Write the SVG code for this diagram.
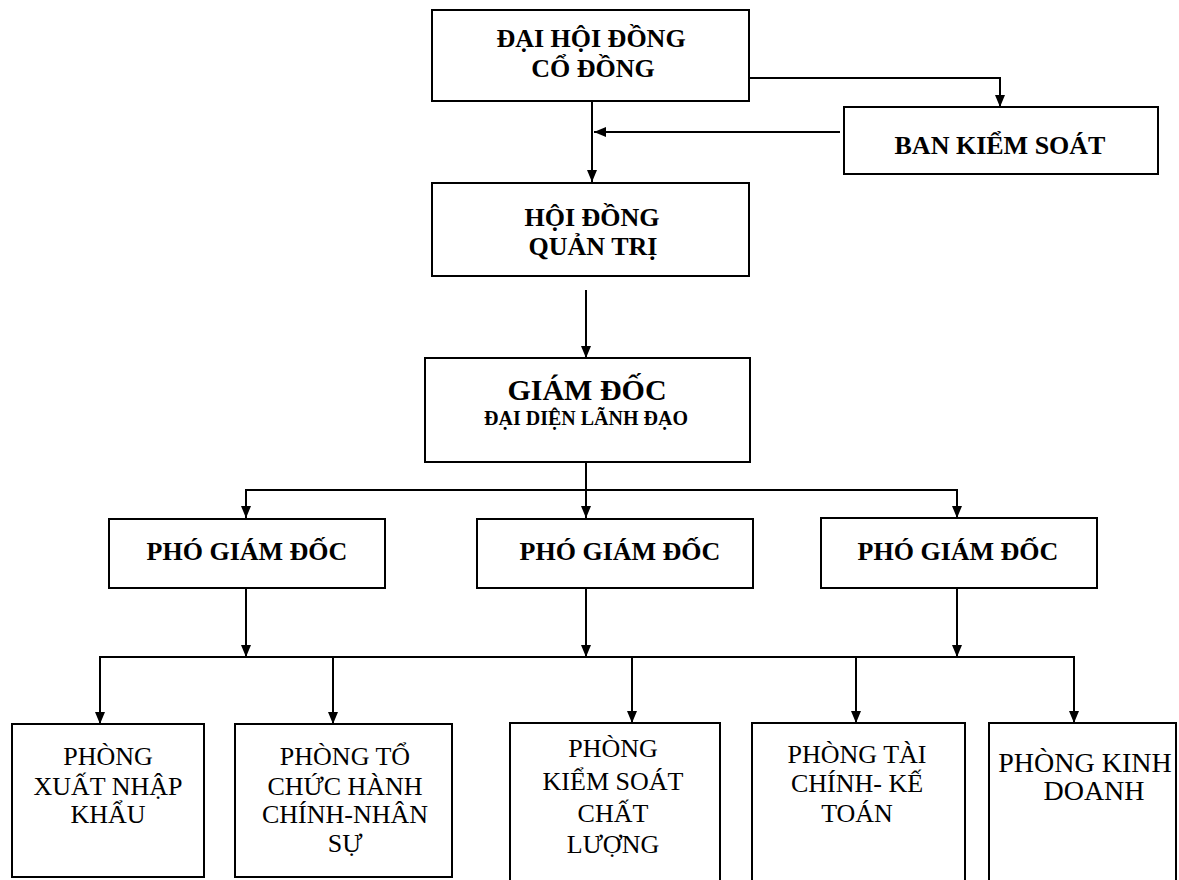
<svg xmlns="http://www.w3.org/2000/svg" width="1179" height="880" viewBox="0 0 1179 880">
<style>
.box{fill:#fff;stroke:#000;stroke-width:2}
.b{font-family:"Liberation Serif","Times New Roman",serif;font-weight:bold;font-size:26px;text-anchor:middle;fill:#000}
.r{font-family:"Liberation Serif","Times New Roman",serif;font-size:26px;text-anchor:middle;fill:#000}
.c{fill:none;stroke:#000;stroke-width:2}
</style>
<defs>
<marker id="ah" viewBox="0 0 12 10" refX="12" refY="5" markerWidth="12" markerHeight="10" markerUnits="userSpaceOnUse" orient="auto">
<path d="M0,0 L12,5 L0,10 z" fill="#000"/>
</marker>
</defs>
<rect width="1179" height="880" fill="#fff"/>
<g id="connectors">
<polyline class="c" points="749,78 1000,78 1000,107" marker-end="url(#ah)"/>
<line class="c" x1="592" y1="101" x2="592" y2="182" marker-end="url(#ah)"/>
<line class="c" x1="840" y1="132" x2="594" y2="132" marker-end="url(#ah)"/>
<line class="c" x1="586" y1="290" x2="586" y2="358" marker-end="url(#ah)"/>
<line class="c" x1="586" y1="462" x2="586" y2="490"/>
<line class="c" x1="245" y1="490" x2="958" y2="490"/>
<line class="c" x1="246" y1="490" x2="246" y2="518" marker-end="url(#ah)"/>
<line class="c" x1="586" y1="490" x2="586" y2="518" marker-end="url(#ah)"/>
<line class="c" x1="957" y1="490" x2="957" y2="518" marker-end="url(#ah)"/>
<line class="c" x1="246" y1="588" x2="246" y2="657" marker-end="url(#ah)"/>
<line class="c" x1="586" y1="588" x2="586" y2="657" marker-end="url(#ah)"/>
<line class="c" x1="957" y1="588" x2="957" y2="657" marker-end="url(#ah)"/>
<line class="c" x1="99" y1="657" x2="1075" y2="657"/>
<line class="c" x1="100" y1="657" x2="100" y2="724" marker-end="url(#ah)"/>
<line class="c" x1="333" y1="657" x2="333" y2="724" marker-end="url(#ah)"/>
<line class="c" x1="632" y1="657" x2="632" y2="723" marker-end="url(#ah)"/>
<line class="c" x1="856" y1="657" x2="856" y2="723" marker-end="url(#ah)"/>
<line class="c" x1="1074" y1="657" x2="1074" y2="723" marker-end="url(#ah)"/>
</g>
<g id="dhdcd">
<rect class="box" x="432" y="10" width="317" height="91"/>
<text class="b" x="591" y="47">ĐẠI HỘI ĐỒNG</text>
<text class="b" x="593" y="77">CỔ ĐỒNG</text>
</g>
<g id="bks">
<rect class="box" x="844" y="107" width="314" height="67"/>
<text class="b" x="1000" y="154">BAN KIỂM SOÁT</text>
</g>
<g id="hdqt">
<rect class="box" x="432" y="183" width="317" height="93"/>
<text class="b" x="592" y="226">HỘI ĐỒNG</text>
<text class="b" x="593" y="255">QUẢN TRỊ</text>
</g>
<g id="gd">
<rect class="box" x="425" y="358" width="325" height="104"/>
<text class="b" x="587" y="400" style="font-size:30px">GIÁM ĐỐC</text>
<text class="b" x="586" y="425" style="font-size:20px">ĐẠI DIỆN LÃNH ĐẠO</text>
</g>
<g id="pgd1">
<rect class="box" x="109" y="519" width="276" height="69"/>
<text class="b" x="247" y="560">PHÓ GIÁM ĐỐC</text>
</g>
<g id="pgd2">
<rect class="box" x="477" y="519" width="276" height="69"/>
<text class="b" x="620" y="560">PHÓ GIÁM ĐỐC</text>
</g>
<g id="pgd3">
<rect class="box" x="821" y="518" width="276" height="70"/>
<text class="b" x="958" y="560">PHÓ GIÁM ĐỐC</text>
</g>
<g id="p-xnk">
<rect class="box" x="12" y="724" width="192" height="153"/>
<text class="r" x="108" y="765">PHÒNG</text>
<text class="r" x="108" y="795">XUẤT NHẬP</text>
<text class="r" x="108" y="823">KHẨU</text>
</g>
<g id="p-tchc">
<rect class="box" x="235" y="724" width="217" height="153"/>
<text class="r" x="345" y="765">PHÒNG TỔ</text>
<text class="r" x="345" y="795">CHỨC HÀNH</text>
<text class="r" x="345" y="823">CHÍNH-NHÂN</text>
<text class="r" x="345" y="852">SỰ</text>
</g>
<g id="p-kscl">
<rect class="box" x="510" y="723" width="210" height="165"/>
<text class="r" x="613" y="757">PHÒNG</text>
<text class="r" x="613" y="790">KIỂM SOÁT</text>
<text class="r" x="613" y="822">CHẤT</text>
<text class="r" x="613" y="853">LƯỢNG</text>
</g>
<g id="p-tckt">
<rect class="box" x="752" y="723" width="213" height="165"/>
<text class="r" x="857" y="763">PHÒNG TÀI</text>
<text class="r" x="857" y="792">CHÍNH- KẾ</text>
<text class="r" x="857" y="822">TOÁN</text>
</g>
<g id="p-kd">
<rect class="box" x="989" y="723" width="187" height="165"/>
<text class="r" x="1085" y="772" style="font-size:28px">PHÒNG KINH</text>
<text class="r" x="1094" y="800" style="font-size:28px">DOANH</text>
</g>
</svg>
